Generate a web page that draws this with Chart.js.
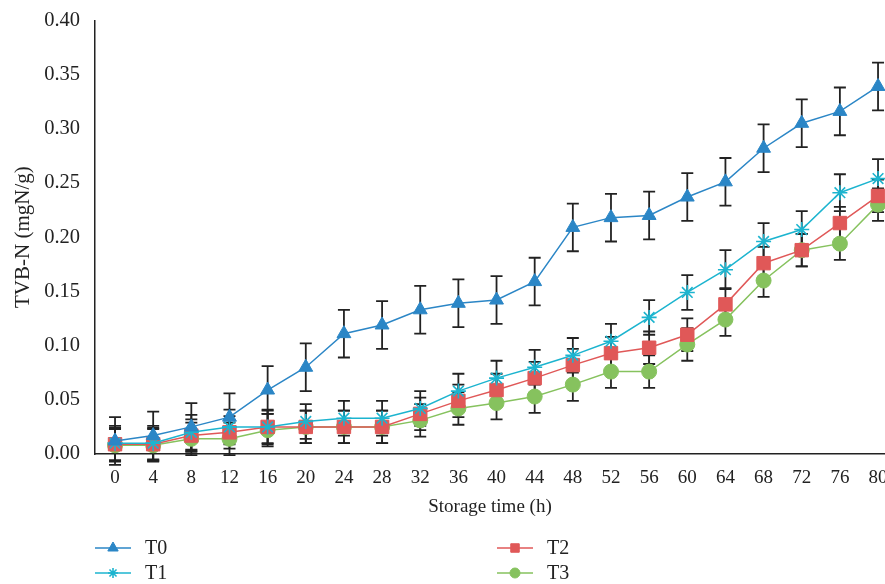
<!DOCTYPE html>
<html>
<head>
<meta charset="utf-8">
<script src="https://cdn.jsdelivr.net/npm/chart.js@4.4.1/dist/chart.umd.min.js"></script>
<style>
  html, body { margin: 0; padding: 0; background: #fff; overflow: hidden; }
  canvas { display: block; }
</style>
</head>
<body>
<canvas id="tvbnChart" width="885" height="584"></canvas>
<script>
// storage time (h)
const hours = [0, 4, 8, 12, 16, 20, 24, 28, 32, 36, 40,
               44, 48, 52, 56, 60, 64, 68, 72, 76, 80];

// TVB-N values (mgN/g)
const t0 = [0.012, 0.017, 0.025, 0.034, 0.059, 0.080, 0.111, 0.119, 0.133, 0.139, 0.142,
            0.159, 0.209, 0.218, 0.220, 0.237, 0.251, 0.282, 0.305, 0.316, 0.339];
const t1 = [0.010, 0.010, 0.020, 0.025, 0.025, 0.030, 0.033, 0.033, 0.042, 0.058, 0.070,
            0.080, 0.091, 0.104, 0.126, 0.149, 0.170, 0.196, 0.207, 0.241, 0.254];
const t2 = [0.009, 0.009, 0.017, 0.020, 0.025, 0.025, 0.025, 0.025, 0.037, 0.049, 0.059,
            0.070, 0.082, 0.093, 0.098, 0.110, 0.138, 0.176, 0.188, 0.213, 0.238];
const t3 = [0.008, 0.008, 0.014, 0.014, 0.022, 0.025, 0.025, 0.025, 0.031, 0.042, 0.047,
            0.053, 0.064, 0.076, 0.076, 0.101, 0.124, 0.160, 0.188, 0.194, 0.230];

// standard deviations
const errT0 = [0.022, 0.022, 0.022, 0.022, 0.022, 0.022, 0.022, 0.022, 0.022, 0.022, 0.022,
               0.022, 0.022, 0.022, 0.022, 0.022, 0.022, 0.022, 0.022, 0.022, 0.022];
const errT1 = [0.016, 0.016, 0.016, 0.016, 0.016, 0.016, 0.016, 0.016, 0.016, 0.016, 0.016,
               0.016, 0.016, 0.016, 0.016, 0.016, 0.018, 0.017, 0.017, 0.017, 0.018];
const errT2 = [0.015, 0.015, 0.015, 0.015, 0.015, 0.015, 0.015, 0.015, 0.015, 0.015, 0.015,
               0.015, 0.015, 0.015, 0.015, 0.015, 0.015, 0.015, 0.015, 0.015, 0.015];
const errT3 = [0.015, 0.015, 0.015, 0.015, 0.015, 0.015, 0.015, 0.015, 0.015, 0.015, 0.015,
               0.015, 0.015, 0.015, 0.015, 0.015, 0.015, 0.015, 0.015, 0.015, 0.015];

const yTicks = [0, 0.05, 0.10, 0.15, 0.20, 0.25, 0.30, 0.35, 0.40];

const serif = "'Liberation Serif', 'DejaVu Serif', serif";
const errors = [errT0, errT1, errT2, errT3];

// error bars, drawn under the markers
const errorBars = {
    id: 'errorBars',
    beforeDatasetsDraw(chart) {
        const { ctx, scales: { x, y } } = chart;
        ctx.save();
        ctx.strokeStyle = '#222';
        ctx.lineWidth = 1.8;
        chart.data.datasets.forEach((ds, i) => {
            ds.data.forEach((p, j) => {
                const px = x.getPixelForValue(p.x);
                const top = y.getPixelForValue(p.y + errors[i][j]);
                const bot = y.getPixelForValue(p.y - errors[i][j]);
                ctx.beginPath();
                ctx.moveTo(px, top); ctx.lineTo(px, bot);
                ctx.moveTo(px - 6, top); ctx.lineTo(px + 6, top);
                ctx.moveTo(px - 6, bot); ctx.lineTo(px + 6, bot);
                ctx.stroke();
            });
        });
        ctx.restore();
    }
};

// two-column legend under the axis
const legendCols = {
    id: 'legendCols',
    afterDraw(chart) {
        const { ctx } = chart;
        const spots = [[95, 548], [95, 573], [497, 548], [497, 573]];
        const sizes = [6, 5, 6, 5];
        chart.data.datasets.forEach((ds, i) => {
            const [lx, ly] = spots[i];
            ctx.save();
            ctx.strokeStyle = ds.borderColor;
            ctx.fillStyle = ds.pointBackgroundColor;
            ctx.lineWidth = 1.5;
            ctx.beginPath();
            ctx.moveTo(lx, ly); ctx.lineTo(lx + 36, ly);
            ctx.stroke();
            ctx.strokeStyle = ds.pointBorderColor;
            ctx.lineWidth = ds.pointBorderWidth;
            Chart.helpers.drawPoint(ctx, {
                pointStyle: ds.pointStyle, radius: sizes[i], rotation: 0,
                borderWidth: ds.pointBorderWidth
            }, lx + 18, ly);
            ctx.fillStyle = '#222';
            ctx.font = '20px ' + serif;
            ctx.textBaseline = 'middle';
            ctx.fillText(ds.label, lx + 50, ly + 1);
            ctx.restore();
        });
    }
};

function series(label, values, color, style, radius) {
    return {
        label: label,
        data: values.map((v, i) => ({ x: hours[i], y: v })),
        borderColor: color,
        backgroundColor: color,
        pointBackgroundColor: color,
        pointBorderColor: color,
        pointBorderWidth: style === 'star' ? 1.6 : 1,
        borderWidth: 1.5,
        pointStyle: style,
        pointRadius: radius,
        tension: 0,
        fill: false,
        clip: false
    };
}

const ctx = document.getElementById('tvbnChart').getContext('2d');
const tvbnChart = new Chart(ctx, {
    type: 'line',
    data: {
        datasets: [
            series('T0', t0, '#2b86c6', 'triangle', 8),
            series('T1', t1, '#1cb4cf', 'star', 7.5),
            series('T2', t2, '#e05858', 'rect', 9.5),
            series('T3', t3, '#86c25e', 'circle', 7.5)
        ]
    },
    options: {
        responsive: false,
        animation: false,
        layout: { autoPadding: false, padding: { top: 18, left: 0, right: 0, bottom: 0 } },
        plugins: { legend: { display: false }, tooltip: { enabled: false } },
        scales: {
            x: {
                type: 'linear',
                // the original is cropped just past the 80 h tick
                min: -2.1,
                max: 80.73,
                afterBuildTicks(scale) { scale.ticks = hours.map(v => ({ value: v })); },
                grid: { display: false, drawTicks: true, tickLength: 7, tickColor: '#222', tickWidth: 1.5 },
                border: { color: '#222', width: 1.5 },
                ticks: { color: '#222', font: { family: serif, size: 19 }, padding: 6, maxRotation: 0, autoSkip: false },
                title: { display: true, text: 'Storage time (h)', color: '#222',
                         font: { family: serif, size: 19 }, padding: { top: 0, bottom: 66 } },
                afterFit(scale) {
                    scale.height = 130;
                    scale.paddingLeft = 0;
                    scale.paddingRight = 0;
                }
            },
            y: {
                min: 0,
                max: 0.4,
                afterBuildTicks(scale) { scale.ticks = yTicks.map(v => ({ value: v })); },
                grid: { display: false, drawTicks: true, tickLength: 7, tickColor: '#222', tickWidth: 1.5 },
                border: { color: '#222', width: 1.5 },
                ticks: { color: '#222', font: { family: serif, size: 20.5 }, padding: 8,
                         callback: v => v.toFixed(2) },
                title: { display: true, text: 'TVB-N (mgN/g)', color: '#222',
                         font: { family: serif, size: 21 }, padding: { top: 11, bottom: 0 } },
                afterFit(scale) { scale.width = 95; }
            }
        }
    },
    plugins: [errorBars, legendCols]
});
</script>
</body>
</html>
